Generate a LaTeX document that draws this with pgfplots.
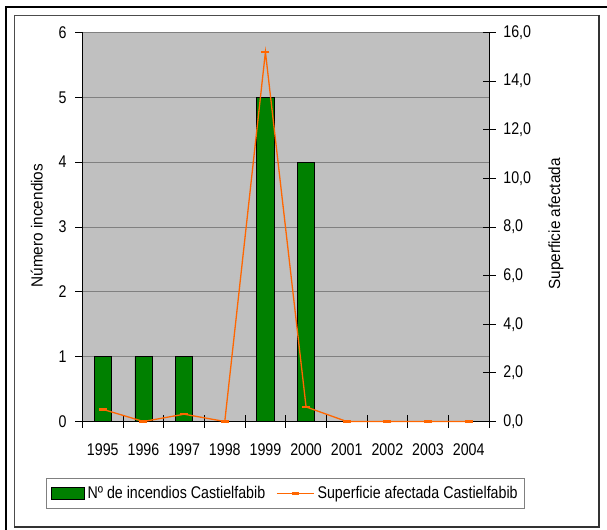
\documentclass[border=0pt]{standalone}
\usepackage{pgfplots}
\pgfplotsset{compat=1.18}
\usepackage{fontspec}
\setmainfont{Liberation Sans}[FakeStretch=0.84]
\newfontfamily\rotfont{Liberation Sans}[FakeStretch=0.95]
\definecolor{bargreen}{RGB}{0,128,0}
\definecolor{lineorange}{RGB}{255,102,0}
\definecolor{plotbg}{RGB}{192,192,192}
\definecolor{gridgray}{RGB}{128,128,128}
\begin{document}
\fontsize{17}{20}\selectfont
\begin{tikzpicture}
\useasboundingbox (0,0) rectangle (607bp,530bp);
\draw[line width=1.2bp] (6bp,0) -- (6bp,523bp) -- (607bp,523bp);
\draw[line width=0.8bp, black!70] (14bp,515bp) -- (599bp,515bp);
\draw[line width=0.8bp, black!70] (14bp,515bp) -- (14bp,3bp);
\draw[line width=1.5bp, black!80] (599bp,515bp) -- (599bp,3bp) -- (14bp,3bp);
\begin{axis}[
  at={(82.5bp,108.5bp)}, anchor=south west,
  scale only axis, width=406.5bp, height=389bp,
  xmin=-0.5, xmax=9.5, ymin=0, ymax=6,
  axis background/.style={fill=plotbg},
  axis x line*=bottom, axis y line*=left,
  axis line style={black, line width=0.9bp},
  /pgf/number format/assume math mode=true,
  ytick={0,1,...,6},
  ymajorgrids, grid style={gridgray, line width=0.8bp},
  xtick={0,...,9},
  xticklabels={1995,1996,1997,1998,1999,2000,2001,2002,2003,2004},
  major x tick style={draw=none},
  minor xtick={-0.5,0.5,...,9.5},
  tick align=outside,
  major tick length=7bp,
  minor tick length=12bp,
  minor x tick style={yshift=6bp, black, line width=0.8bp},
  major y tick style={black, line width=0.8bp},
  xticklabel shift=9bp,
  yticklabel shift=3bp,
]
\addplot[ybar, bar width=0.42, fill=bargreen, draw=black, line width=0.8bp]
  coordinates {(0,1) (1,1) (2,1) (4,5) (5,4)};
\end{axis}
\begin{axis}[
  at={(82.5bp,108.5bp)}, anchor=south west,
  scale only axis, width=406.5bp, height=389bp,
  xmin=-0.5, xmax=9.5, ymin=0, ymax=16,
  axis x line=none, axis y line*=right,
  axis line style={black, line width=0.9bp},
  clip=false,
  /pgf/number format/assume math mode=true,
  ytick={0,2,...,16},
  yticklabel style={/pgf/number format/.cd, fixed, fixed zerofill, precision=1, use comma},
  tick align=center,
  major tick length=13bp,
  major y tick style={black, line width=0.8bp},
  yticklabel shift=2bp,
  legend columns=2,
  legend style={at={(rel axis cs:0.5,0)}, anchor=center, yshift=-72bp,
    draw=gray, fill=white, line width=0.8bp, inner xsep=4bp, inner ysep=6bp,
    /tikz/every even column/.append style={column sep=8bp},
    nodes={inner xsep=3bp}},
]
\addlegendimage{legend image code/.code={\draw[fill=bargreen, draw=black, line width=0.8bp] (0bp,-6bp) rectangle (33bp,6bp);}}
\addlegendentry{Nº de incendios Castielfabib}
\addplot[lineorange, line width=1.3bp, mark=-, mark size=4bp, mark options={line width=2.5bp},
  legend image code/.code={\draw[lineorange, line width=1.3bp] (0bp,0bp) -- (37bp,0bp); \draw[lineorange, line width=2.5bp] (15bp,0bp) -- (22bp,0bp);}]
  coordinates {(0,0.5) (1,0) (2,0.3) (3,0) (4,15.2) (5,0.6) (6,0) (7,0) (8,0) (9,0)};
\addlegendentry{Superficie afectada Castielfabib}
\end{axis}
\node[rotate=90, font=\rotfont\fontsize{16.2}{18}\selectfont] at (36.8bp,304.4bp) {Número incendios};
\node[rotate=90, font=\rotfont\fontsize{16.2}{18}\selectfont] at (556bp,306bp) {Superficie afectada};
\end{tikzpicture}
\end{document}
